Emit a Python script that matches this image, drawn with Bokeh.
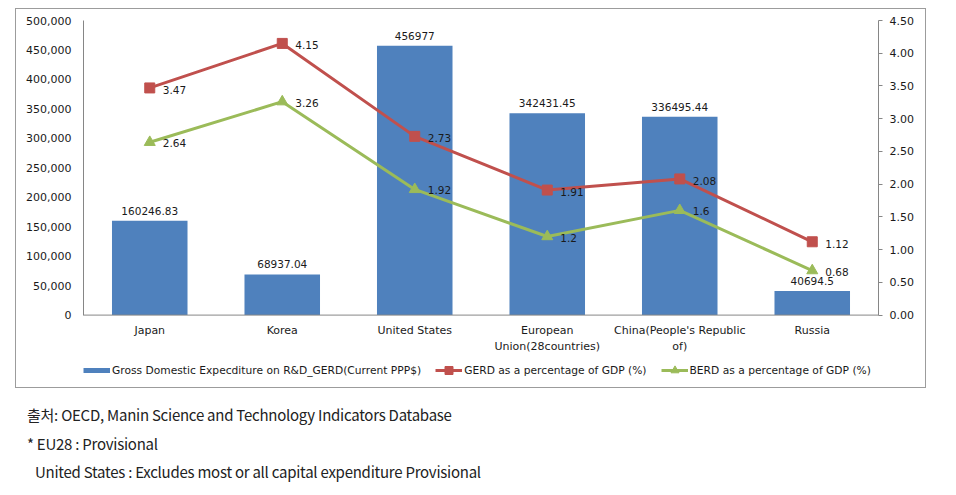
from bokeh.plotting import figure
from bokeh.models import (Range1d, LinearAxis, FixedTicker, NumeralTickFormatter,
                          ColumnDataSource, Legend, LegendItem, FactorRange, Div, Span)
from bokeh.layouts import column
from bokeh.embed import file_html
from bokeh.resources import INLINE
from bokeh.core.properties import value

# ---- data ----
categories = ["Japan", "Korea", "United States", "European\nUnion(28countries)",
              "China(People's Republic\nof)", "Russia"]
gerd_values = [160246.83, 68937.04, 456977, 342431.45, 336495.44, 40694.5]
gerd_labels = ["160246.83", "68937.04", "456977", "342431.45", "336495.44", "40694.5"]
gerd_pct = [3.47, 4.15, 2.73, 1.91, 2.08, 1.12]
berd_pct = [2.64, 3.26, 1.92, 1.2, 1.6, 0.68]
left_ticks = [0, 50000, 100000, 150000, 200000, 250000, 300000, 350000, 400000, 450000, 500000]
right_ticks = [0, 0.5, 1.0, 1.5, 2.0, 2.5, 3.0, 3.5, 4.0, 4.5]
series_names = ["Gross Domestic Expecditure on R&D_GERD(Current PPP$)",
                "GERD as a percentage of GDP (%)",
                "BERD as a percentage of GDP (%)"]
notes = ["출처: OECD, Manin Science and Technology Indicators Database",
         "* EU28 : Provisional",
         "United States : Excludes most or all capital expenditure Provisional"]

BLUE = "#4F81BD"
RED = "#C0504D"
GREEN = "#9BBB59"
FONT = "DejaVu Sans"
TXT = "#1a1a1a"
AXC = "#868686"

# layout geometry (pixels): value axis spans PLOT_H px; a band of BAND_H px below the
# zero line holds the category labels and the legend
PLOT_H = 293
BAND_H = 74
LEFT_MAX = 500000
RIGHT_MAX = 4.5

src = ColumnDataSource(dict(
    cat=categories, gerd=gerd_values, lab=gerd_labels,
    gp=gerd_pct, bp=berd_pct,
    gpl=[str(v) for v in gerd_pct], bpl=[str(v) for v in berd_pct],
    zero=[0] * len(categories),
    nothing=[float("nan")] * len(categories)))

p = figure(x_range=FactorRange(factors=categories, range_padding=0),
           y_range=Range1d(-LEFT_MAX * BAND_H / PLOT_H, LEFT_MAX),
           width=911, height=380, output_backend="svg", toolbar_location=None,
           x_axis_location=None,
           min_border_left=67, min_border_right=49, min_border_top=11, min_border_bottom=0,
           outline_line_color=None, background_fill_color="white", border_fill_color="white")
p.margin = (8, 0, 0, 15)
p.styles = {"border": "1px solid #9c9c9c"}
p.extra_y_ranges = {"pct": Range1d(-RIGHT_MAX * BAND_H / PLOT_H, RIGHT_MAX)}
p.xgrid.visible = False
p.ygrid.visible = False

# left axis
ya = p.yaxis[0]
ya.ticker = FixedTicker(ticks=left_ticks)
ya.formatter = NumeralTickFormatter(format="0,0")
ya.bounds = (0, LEFT_MAX)
ya.major_tick_out = 0
ya.major_tick_in = 0
ya.minor_tick_out = 0
ya.minor_tick_in = 0
ya.axis_line_color = AXC
ya.major_label_standoff = 12
ya.major_label_text_font = FONT
ya.major_label_text_font_size = "11px"
ya.major_label_text_color = TXT

# right axis
ra = LinearAxis(y_range_name="pct", ticker=FixedTicker(ticks=right_ticks),
                formatter=NumeralTickFormatter(format="0.00"), bounds=(0, RIGHT_MAX))
ra.major_tick_out = 4
ra.major_tick_in = 0
ra.minor_tick_out = 0
ra.minor_tick_in = 0
ra.axis_line_color = AXC
ra.major_tick_line_color = AXC
ra.major_label_standoff = 7
ra.major_label_text_font = FONT
ra.major_label_text_font_size = "11px"
ra.major_label_text_color = TXT
p.add_layout(ra, "right")

# category axis line and labels at the zero line
p.add_layout(Span(location=0, dimension="width", line_color=AXC, line_width=1))
p.text(x="cat", y="zero", text="cat", text_align="center", text_baseline="top",
       y_offset=9, text_font=value(FONT), text_font_size="11px", text_color=TXT,
       text_line_height=1.25, source=src)

# bars
p.vbar(x="cat", top="gerd", bottom=0, width=0.57, fill_color=BLUE, line_color=None, source=src)
p.text(x="cat", y="gerd", text="lab", text_align="center", text_baseline="bottom",
       y_offset=-6, text_font=value(FONT), text_font_size="10.5px", text_color=TXT, source=src)

# lines
rl = p.line(x="cat", y="gp", y_range_name="pct", line_color=RED, line_width=3, source=src)
rp = p.scatter(x="cat", y="gp", y_range_name="pct", marker="square", size=10,
               fill_color=RED, line_color=RED, source=src)
gl = p.line(x="cat", y="bp", y_range_name="pct", line_color=GREEN, line_width=3, source=src)
gp_ = p.scatter(x="cat", y="bp", y_range_name="pct", marker="triangle", size=11,
                fill_color=GREEN, line_color=GREEN, source=src)
p.text(x="cat", y="gp", text="gpl", y_range_name="pct", x_offset=13, y_offset=2,
       text_baseline="middle", text_font=value(FONT), text_font_size="10.5px",
       text_color=TXT, source=src)
p.text(x="cat", y="bp", text="bpl", y_range_name="pct", x_offset=13, y_offset=1,
       text_baseline="middle", text_font=value(FONT), text_font_size="10.5px",
       text_color=TXT, source=src)

# legend (the bar series is shown as a thick swatch, drawn from a line that has no visible points)
blue_swatch = p.line(x="cat", y="nothing", line_color=BLUE, line_width=5, source=src)
legend = Legend(items=[LegendItem(label=series_names[0], renderers=[blue_swatch]),
                       LegendItem(label=series_names[1], renderers=[rl, rp]),
                       LegendItem(label=series_names[2], renderers=[gl, gp_])],
                orientation="horizontal", location=(0, 9), padding=0, spacing=14,
                glyph_width=27, glyph_height=20, label_standoff=2, margin=0,
                label_text_font=FONT, label_text_font_size="10.7px", label_text_color=TXT,
                border_line_color=None, background_fill_alpha=0)
p.add_layout(legend)

# footnotes
lines_html = "".join(
    f'<div style="padding-left:{8 if i == 2 else 0}px">{t}</div>' for i, t in enumerate(notes))
notes_div = Div(
    text=('<div style="font-family:\'Noto Sans CJK KR\';font-size:15px;letter-spacing:-0.25px;'
          'line-height:28.5px;color:#222222;padding-top:8px;padding-left:22px;white-space:nowrap">'
          + lines_html + '</div>'),
    width=940, height=104)

layout = column(p, notes_div)
open("out.html", "w").write(file_html(layout, INLINE))
